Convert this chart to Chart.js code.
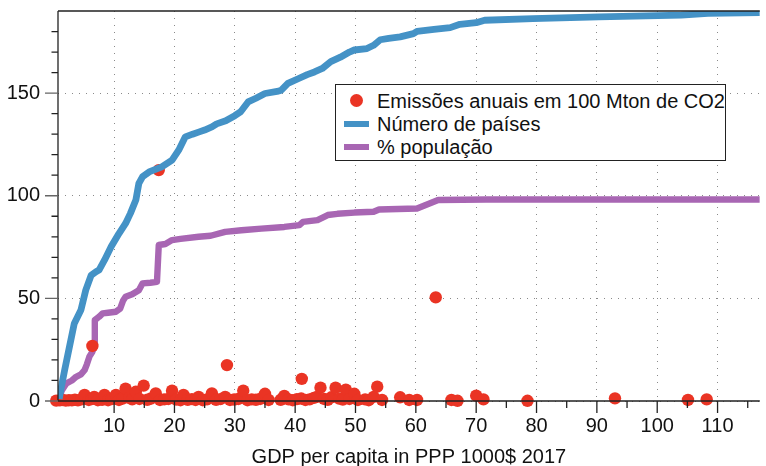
<!DOCTYPE html>
<html>
<head>
<meta charset="utf-8">
<script src="https://cdn.jsdelivr.net/npm/chart.js@4.4.1/dist/chart.umd.min.js"></script>
<style>
    html, body { margin: 0; padding: 0; background: #fff; }
    #wrap { position: relative; width: 766px; height: 466px; }
    #legend {
        position: absolute; left: 335px; top: 84px; width: 391px; height: 77px;
        border: 1.3px solid #222; background: #fff; box-sizing: border-box;
        font-family: "Liberation Sans", Arial, sans-serif; font-size: 20px; color: #111;
    }
    .row { position: absolute; left: 0; height: 24px; line-height: 24px; white-space: nowrap; }
    .row span.txt { position: absolute; left: 41px; }
    .sw { position: absolute; }
</style>
</head>
<body>
<div id="wrap">
    <canvas id="c" width="766" height="466"></canvas>
    <div id="legend"></div>
</div>
<script>
// Número de países (acumulado) vs GDP per capita
const paisesX = [0.9, 1.2, 1.8, 2.6, 3.4, 4.5, 5.3, 6.2, 7.0, 7.5, 8.4, 9.5, 10.8, 11.9, 12.7, 13.6, 14.1, 14.7, 15.8, 17.9, 19.6, 20.7,
                 21.8, 23.0, 24.0, 25.0, 26.2, 27.0, 28.5, 30.0, 31.0, 32.2, 33.5, 35.0, 37.0, 37.7, 38.8, 40.5, 42.0, 43.2, 44.5,
                 45.9, 47.5, 49.0, 49.8, 51.9, 53.0, 54.1, 55.5, 57.4, 59.6, 60.2, 63.0, 65.7, 67.3, 70.0, 71.4, 79.4, 90.3, 104.0, 108.4, 117.0];
const paisesY = [1, 6, 15, 26.4, 37.8, 44.3, 54, 61.3, 63, 63.8, 68.6, 75.1, 81.6, 86.5, 91.4, 97.9, 106, 109.2, 111.6, 114.1, 117.3, 122.2,
                 128.7, 130, 131, 132, 133.5, 135, 136.5, 139, 141, 145.7, 147.5, 149.8, 150.8, 151.4, 154.7, 157, 159, 160.3, 162,
                 165.3, 167.5, 170, 171, 171.7, 173.3, 176, 176.7, 177.4, 179, 180.1, 181, 181.9, 183.5, 184.3, 185.5, 186.3, 187.1, 188, 188.8, 189.2];

// % população (acumulada)
const popX = [0.9, 1.3, 2.1, 3.0, 3.7, 4.5, 5.1, 5.5, 5.9, 6.4, 6.7, 6.8, 7.5, 8.1, 9.0, 10.3, 11.0, 11.5, 11.9, 13.0, 14.1, 14.7, 16.0, 17.1,
              17.4, 18.5, 19.6, 21.0, 24.0, 26.0, 28.4, 31.1, 34.4, 38.2, 40.7, 41.3, 43.7, 45.4, 47.0, 49.8, 53.0, 53.9, 60.2, 63.7, 71.7, 117.0];
const popY = [1, 5, 8.6, 10, 11.8, 13, 15, 18, 21.6, 24, 26.4, 39.4, 41, 42.7, 43, 43.5, 45, 49, 50.8, 52, 54, 57.3, 57.6, 58,
              76, 76.5, 78.4, 79, 80, 80.5, 82.4, 83.2, 84, 84.8, 85.7, 87.3, 88.1, 90.6, 91.2, 91.8, 92.2, 93.3, 93.8, 97.9, 98.2, 98.2];

// Emissões anuais (100 Mton CO2) por país
const emisX = [0.4, 1.0, 1.5, 2.0, 2.5, 3.0, 3.5, 4.0, 4.6, 5.1, 5.8, 6.3, 6.7, 7.3, 8.0, 8.4, 9.0, 9.6, 10.3, 10.8, 11.4, 11.9, 12.5,
               13.0, 13.6, 14.2, 14.9, 15.5, 16.1, 16.9, 17.6, 18.3, 19.0, 19.6, 20.3, 21.0, 21.5, 22.2, 22.9, 23.5, 24.0, 24.7, 25.4,
               26.2, 26.9, 27.6, 28.4, 29.2, 29.9, 30.6, 31.4, 32.1, 32.8, 33.5, 34.2, 35.0, 35.6, 37.6, 38.2, 38.9, 39.6, 40.3, 41.0,
               41.7, 42.4, 43.1, 43.6, 44.2, 44.8, 45.4, 46.0, 46.7, 47.3, 47.9, 48.4, 49.0, 49.8, 50.4, 51.6, 52.2, 53.0, 53.6, 54.4,
               57.4, 58.9, 60.2, 65.9, 66.9, 70.0, 71.2, 78.5, 93.0, 105.1, 108.2,
               6.4, 17.4, 28.7, 41.1, 63.3];
const emisY = [0.2, 0.3, 0.5, 0.2, 0.4, 0.3, 0.6, 0.3, 0.8, 3, 0.5, 0.9, 2, 0.4, 0.6, 3, 0.4, 0.9, 3, 0.5, 1.2, 6, 1.5,
               0.8, 4.5, 1.0, 7.5, 0.6, 1.2, 3.7, 0.5, 0.8, 1.0, 5, 0.7, 0.4, 3, 0.6, 0.9, 0.5, 2, 0.4, 0.8,
               3.7, 0.6, 0.9, 2, 0.5, 0.7, 1.0, 5, 0.4, 0.8, 0.6, 1.0, 3.5, 0.5, 0.6, 2.5, 0.8, 0.4, 0.9, 1.2,
               0.5, 0.8, 1.5, 2, 6.5, 1.0, 0.6, 1.8, 6.5, 1.2, 0.7, 5.5, 1.0, 3.5, 0.5, 0.8, 0.4, 2, 7, 0.5,
               1.8, 0.5, 0.5, 0.5, 0.1, 2.6, 0.8, 0.1, 1.3, 0.5, 0.8,
               26.8, 112.5, 17.5, 10.8, 50.5];

// eixos
const xMajor = [10, 20, 30, 40, 50, 60, 70, 80, 90, 100, 110];
const xMinor = [5, 15, 25, 35, 45, 55, 65, 75, 85, 95, 105, 115];
const yMajor = [0, 50, 100, 150];
const yMinor = [10, 20, 30, 40, 60, 70, 80, 90, 110, 120, 130, 140, 160, 170, 180];

const corEmis   = '#ea3424';
const corPaises = '#4492c6';
const corPop    = '#a866b3';
const fonte = '"Liberation Sans", Arial, sans-serif';

const pontos = (xs, ys) => xs.map((x, i) => ({ x, y: ys[i] }));

// eixos, ticks e moldura por cima dos pontos
const eixos = {
    id: 'eixos',
    afterDatasetsDraw(chart) {
        const { ctx, chartArea: a, scales } = chart;
        ctx.save();
        ctx.strokeStyle = '#222';
        ctx.lineWidth = 1.3;
        ctx.beginPath();
        ctx.moveTo(a.left, a.top); ctx.lineTo(a.right, a.top);
        ctx.moveTo(a.left, a.top); ctx.lineTo(a.left, a.bottom);
        ctx.moveTo(a.left, a.bottom); ctx.lineTo(a.right, a.bottom);
        xMinor.forEach(v => { const p = scales.x.getPixelForValue(v); ctx.moveTo(p, a.bottom); ctx.lineTo(p, a.bottom + 7); });
        yMinor.forEach(v => { const p = scales.y.getPixelForValue(v); ctx.moveTo(a.left, p); ctx.lineTo(a.left - 6.5, p); });
        scales.x.ticks.forEach(t => { const p = scales.x.getPixelForValue(t.value); ctx.moveTo(p, a.bottom); ctx.lineTo(p, a.bottom + 12); });
        ctx.stroke();
        ctx.strokeStyle = '#666';
        ctx.beginPath();
        scales.y.ticks.forEach(t => { const p = scales.y.getPixelForValue(t.value); ctx.moveTo(a.left, p); ctx.lineTo(a.left - 13, p); });
        ctx.stroke();
        ctx.restore();
    }
};

const chart = new Chart(document.getElementById('c'), {
    type: 'scatter',
    data: {
        datasets: [
            {
                label: 'Emissões anuais em 100 Mton de CO2',
                data: pontos(emisX, emisY),
                backgroundColor: corEmis,
                borderColor: corEmis,
                pointRadius: 6.2,
                pointBorderWidth: 0,
                clip: false,
                order: 1
            },
            {
                label: 'Número de países',
                data: pontos(paisesX, paisesY),
                showLine: true,
                borderColor: corPaises,
                backgroundColor: corPaises,
                borderWidth: 6.8,
                pointRadius: 0,
                borderJoinStyle: 'round',
                order: 0
            },
            {
                label: '% população',
                data: pontos(popX, popY),
                showLine: true,
                borderColor: corPop,
                backgroundColor: corPop,
                borderWidth: 6.4,
                pointRadius: 0,
                borderJoinStyle: 'round',
                order: 2
            }
        ]
    },
    options: {
        responsive: false,
        animation: false,
        devicePixelRatio: 1,
        layout: { padding: { top: 11, right: 0, left: 0, bottom: 0 } },
        plugins: { legend: { display: false }, tooltip: { enabled: false } },
        scales: {
            x: {
                type: 'linear',
                min: 0.7,
                max: 117,
                afterBuildTicks: s => { s.ticks = xMajor.map(v => ({ value: v })); },
                afterFit: s => { s.height = 65; s.paddingLeft = 0; s.paddingRight = 0; },
                ticks: { color: '#111', padding: 1, maxRotation: 0, font: { family: fonte, size: 20 } },
                grid: { color: '#8a8a8a', lineWidth: 1, tickLength: 12, tickColor: 'rgba(0,0,0,0)' },
                border: { display: false, dash: [1, 6] },
                title: {
                    display: true,
                    text: 'GDP per capita in PPP 1000$ 2017',
                    color: '#111',
                    font: { family: fonte, size: 20 },
                    padding: { top: 0, bottom: -3 }
                }
            },
            y: {
                min: 0,
                max: 190,
                afterBuildTicks: s => { s.ticks = yMajor.map(v => ({ value: v })); },
                afterFit: s => { s.width = 58; s.paddingTop = 0; s.paddingBottom = 0; },
                ticks: { color: '#111', padding: 5, font: { family: fonte, size: 20 } },
                grid: { color: '#8a8a8a', lineWidth: 1, tickLength: 13, tickColor: 'rgba(0,0,0,0)' },
                border: { display: false, dash: [1, 6] }
            }
        }
    },
    plugins: [eixos]
});

// legenda em HTML, a partir dos datasets
const legend = document.getElementById('legend');
chart.data.datasets.forEach((ds, i) => {
    const row = document.createElement('div');
    row.className = 'row';
    row.style.top = (3.5 + i * 23.3) + 'px';
    row.style.width = '100%';
    const sw = document.createElement('div');
    sw.className = 'sw';
    if (ds.showLine) {
        Object.assign(sw.style, { left: '8px', top: '9px', width: '25px', height: '6px', background: ds.borderColor });
    } else {
        Object.assign(sw.style, { left: '13.5px', top: '5.5px', width: '13px', height: '13px', borderRadius: '50%', background: ds.backgroundColor });
    }
    const txt = document.createElement('span');
    txt.className = 'txt';
    txt.textContent = ds.label;
    row.appendChild(sw);
    row.appendChild(txt);
    legend.appendChild(row);
});
</script>
</body>
</html>
